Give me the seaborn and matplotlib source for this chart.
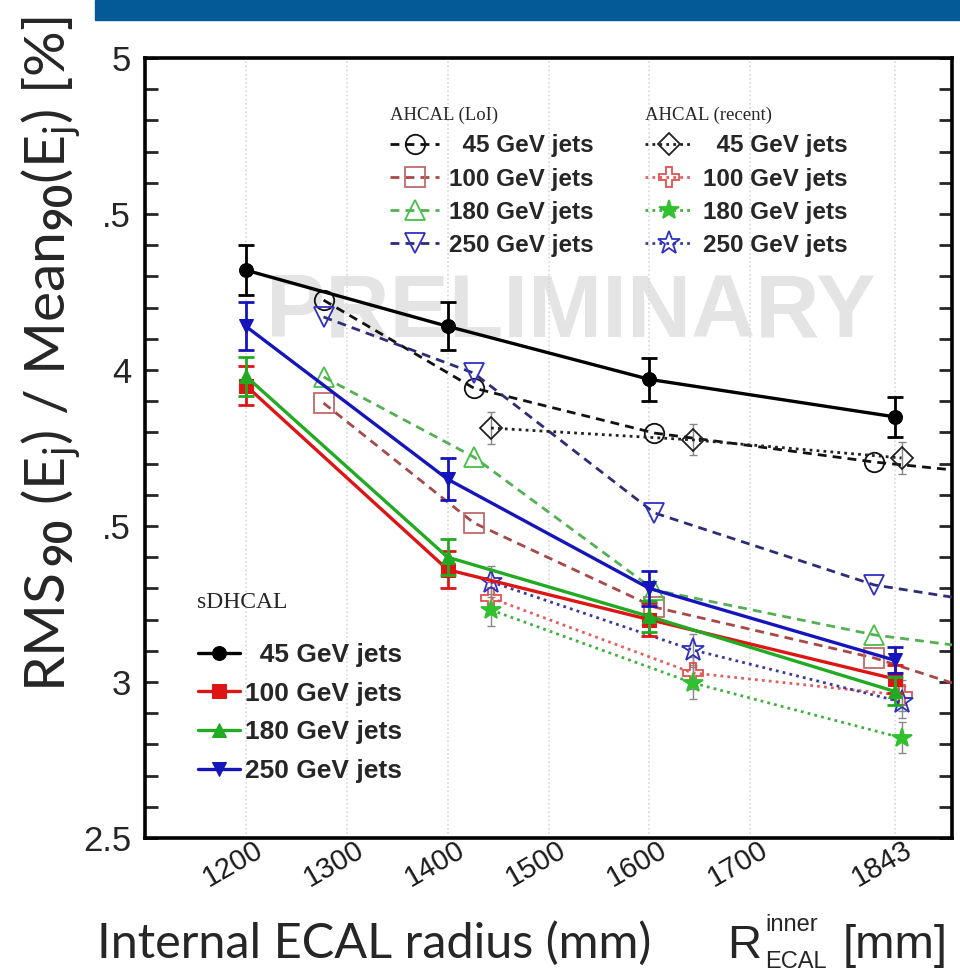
import matplotlib
matplotlib.use("Agg")
import matplotlib.pyplot as plt
import matplotlib.transforms as mtransforms
import seaborn as sns
from matplotlib.ticker import MultipleLocator, FixedLocator

# ---- sDHCAL (solid lines, filled markers, error bars) ----
sd_radius = [1200, 1400, 1600, 1843]
sd_45 = [4.32, 4.14, 3.97, 3.85]
sd_45_err = [0.080, 0.077, 0.070, 0.064]
sd_100 = [3.95, 3.36, 3.20, 3.01]
sd_100_err = [0.062, 0.060, 0.052, 0.045]
sd_180 = [3.98, 3.40, 3.21, 2.97]
sd_180_err = [0.062, 0.058, 0.050, 0.045]
sd_250 = [4.14, 3.65, 3.30, 3.07]
sd_250_err = [0.077, 0.067, 0.055, 0.042]

# ---- AHCAL LoI (dashed lines, open markers); last entry is where the line leaves the frame ----
loi_radius = [1277, 1426, 1605, 1823, 1900]
loi_45 = [4.224, 3.942, 3.798, 3.705, 3.680]
loi_100 = [3.894, 3.510, 3.240, 3.077, 2.997]
loi_180 = [3.978, 3.721, 3.295, 3.151, 3.119]
loi_250 = [4.170, 3.990, 3.542, 3.311, 3.272]

# ---- AHCAL recent (dotted lines) ----
rec_radius = [1443, 1643, 1850]
rec_45 = [3.814, 3.776, 3.718]
rec_100 = [3.269, 3.029, 2.958]
rec_180 = [3.231, 2.997, 2.821]
rec_250 = [3.321, 3.103, 2.936]
rec_err = [0.05, 0.05, 0.05]

energies = ["45", "100", "180", "250"]
x_ticks = [1200, 1300, 1400, 1500, 1600, 1700, 1843]
y_ticks = [2.5, 3.0, 3.5, 4.0, 4.5, 5.0]
y_tick_labels = ["2.5", "3", ".5", "4", ".5", "5"]

sns.set_style("white")
plt.rcParams["font.family"] = ["Liberation Sans", "DejaVu Sans"]
plt.rcParams["mathtext.fontset"] = "custom"
plt.rcParams["mathtext.rm"] = "Lato"
plt.rcParams["mathtext.bf"] = "Lato:bold"
plt.rcParams["mathtext.it"] = "Lato:italic"

fig = plt.figure(figsize=(9.6, 9.76), dpi=100)
ax = fig.add_axes([145 / 960, 1 - 838 / 976, 807 / 960, 780 / 976])

# slide header bar
fig.patches.append(plt.Rectangle((95 / 960, 1 - 20 / 976), 1, 20 / 976,
                                 transform=fig.transFigure, color="#045a96", zorder=0))

# watermark
ax.text(0.528, 0.673, "PRELIMINARY", transform=ax.transAxes, fontsize=64,
        fontweight="bold", color="#e4e4e4", ha="center", va="center", zorder=0)

sd_colors = ["#000000", "#dd1515", "#22aa22", "#1515bb"]
sd_markers = ["o", "s", "^", "v"]
sd_vals = [sd_45, sd_100, sd_180, sd_250]
sd_errs = [sd_45_err, sd_100_err, sd_180_err, sd_250_err]

loi_colors = ["#111111", "#a84848", "#55b055", "#2c2c78"]
loi_mcolors = ["#111111", "#c06a6a", "#48c048", "#3030c0"]
loi_markers = ["o", "s", "^", "v"]
loi_vals = [loi_45, loi_100, loi_180, loi_250]

rec_colors = ["#222222", "#e06060", "#40b040", "#3a3a9a"]
rec_mcolors = ["#222222", "#e05050", "#30c030", "#3030c0"]
rec_markers = ["D", "P", "*", "*"]
rec_vals = [rec_45, rec_100, rec_180, rec_250]

loi_handles, rec_handles, sd_handles = [], [], []

for e, c, mc, m, v in zip(energies, loi_colors, loi_mcolors, loi_markers, loi_vals):
    sns.lineplot(x=loi_radius, y=v, ax=ax, color=c, linestyle=(0, (3.2, 2.2)), lw=2.0,
                 marker=m, markersize=14, mfc="none", mec=mc, mew=1.3,
                 markevery=[0, 1, 2, 3], errorbar=None, sort=False, zorder=3)
    loi_handles.append(ax.lines[-1])

for i, (e, c, mc, m, v) in enumerate(zip(energies, rec_colors, rec_mcolors, rec_markers, rec_vals)):
    filled = (i == 2)
    ms = {0: 11, 1: 14, 2: 15, 3: 17}[i]
    sns.lineplot(x=rec_radius, y=v, ax=ax, color=c, linestyle=(0, (1, 1.5)), lw=2.0,
                 marker=m, markersize=ms, mfc=mc if filled else "none", mec=mc, mew=1.3,
                 errorbar=None, sort=False, zorder=3)
    rec_handles.append(ax.lines[-1])
    ax.errorbar(rec_radius, v, yerr=rec_err, fmt="none", ecolor="#888888",
                elinewidth=1, capsize=3, ls=":", zorder=2)

for e, c, m, v, err in zip(energies, sd_colors, sd_markers, sd_vals, sd_errs):
    sns.lineplot(x=sd_radius, y=v, ax=ax, color=c, lw=2.4, marker=m, markersize=10,
                 mec=c, mfc=c, errorbar=None, sort=False, zorder=5)
    sd_handles.append(ax.lines[-1])
    ax.errorbar(sd_radius, v, yerr=err, fmt="none", ecolor=c, elinewidth=2,
                capsize=6, capthick=2, zorder=5)

ax.set_xlim(1100, 1900)
ax.set_ylim(2.5, 5.0)

# axes styling
for s in ax.spines.values():
    s.set_linewidth(2.6)
    s.set_color("black")
ax.xaxis.set_major_locator(FixedLocator(x_ticks))
ax.set_xticklabels([str(t) for t in x_ticks], rotation=30, ha="right",
                   rotation_mode="anchor", fontsize=21, color="#1a1a1a")
ax.tick_params(axis="x", length=0, pad=-2)
shift = mtransforms.ScaledTranslation(8 / 100, 0, fig.dpi_scale_trans)
for lab in ax.get_xticklabels():
    lab.set_transform(lab.get_transform() + shift)
ax.yaxis.set_major_locator(FixedLocator(y_ticks))
ax.set_yticklabels(y_tick_labels, fontsize=25)
ax.yaxis.set_minor_locator(MultipleLocator(0.1))
ax.tick_params(axis="y", which="both", direction="in", left=True, right=True,
               length=9.5, width=2, pad=10)
ax.grid(axis="x", color="#d8d8d8", lw=1.2, ls=(0, (1, 1.5)), zorder=0)
ax.set_xlabel("")
ax.set_ylabel("")

leg_font = {"family": "Liberation Sans", "weight": "bold", "size": 17.5}
title_font = {"family": "Liberation Serif", "size": 13.5}

loi_labels = ["  45 GeV jets", "100 GeV jets", "180 GeV jets", "250 GeV jets"]
leg1 = ax.legend(loi_handles, loi_labels, loc="upper left", bbox_to_anchor=(0.289, 0.953),
                 frameon=False, prop=leg_font, title="AHCAL (LoI)",
                 title_fontproperties=title_font, alignment="left",
                 handlelength=2.0, handletextpad=0.4, labelspacing=0.42, borderpad=0)
ax.add_artist(leg1)
leg2 = ax.legend(rec_handles, loi_labels, loc="upper left", bbox_to_anchor=(0.604, 0.953),
                 frameon=False, prop=leg_font, title="AHCAL (recent)",
                 title_fontproperties=title_font, alignment="left",
                 handlelength=2.0, handletextpad=0.4, labelspacing=0.42, borderpad=0)
ax.add_artist(leg2)
sd_font = {"family": "Liberation Sans", "weight": "bold", "size": 19}
ax.text(0.065, 0.302, "sDHCAL", transform=ax.transAxes, ha="left", va="center",
        family="Liberation Serif", fontsize=17)
leg3 = ax.legend(sd_handles, loi_labels, loc="upper left", bbox_to_anchor=(0.049, 0.267),
                 frameon=False, prop=sd_font, alignment="left", handlelength=1.6,
                 handletextpad=0.2, labelspacing=0.56, borderpad=0)

# axis titles
fig.text(52 / 960, 1 - 692 / 976,
         r"RMS$_{\,\mathbf{90}}$ (E$_{\mathrm{j}}$) / Mean$_{\mathbf{90}}$(E$_{\mathrm{j}}$) [%]",
         rotation=90, ha="center", va="bottom", fontsize=41, family="Lato")
fig.text(97 / 960, 1 - 958 / 976, "Internal ECAL radius (mm)", ha="left", va="baseline",
         fontsize=35, family="Lato")
fig.text(727 / 960, 1 - 958 / 976, "R", ha="left", va="baseline", fontsize=34)
fig.text(765 / 960, 1 - 931 / 976, "inner", ha="left", va="baseline", fontsize=17)
fig.text(765 / 960, 1 - 968 / 976, "ECAL", ha="left", va="baseline", fontsize=17)
fig.text(843 / 960, 1 - 958 / 976, "[mm]", ha="left", va="baseline", fontsize=34)

fig.savefig("out.png", dpi=100)
